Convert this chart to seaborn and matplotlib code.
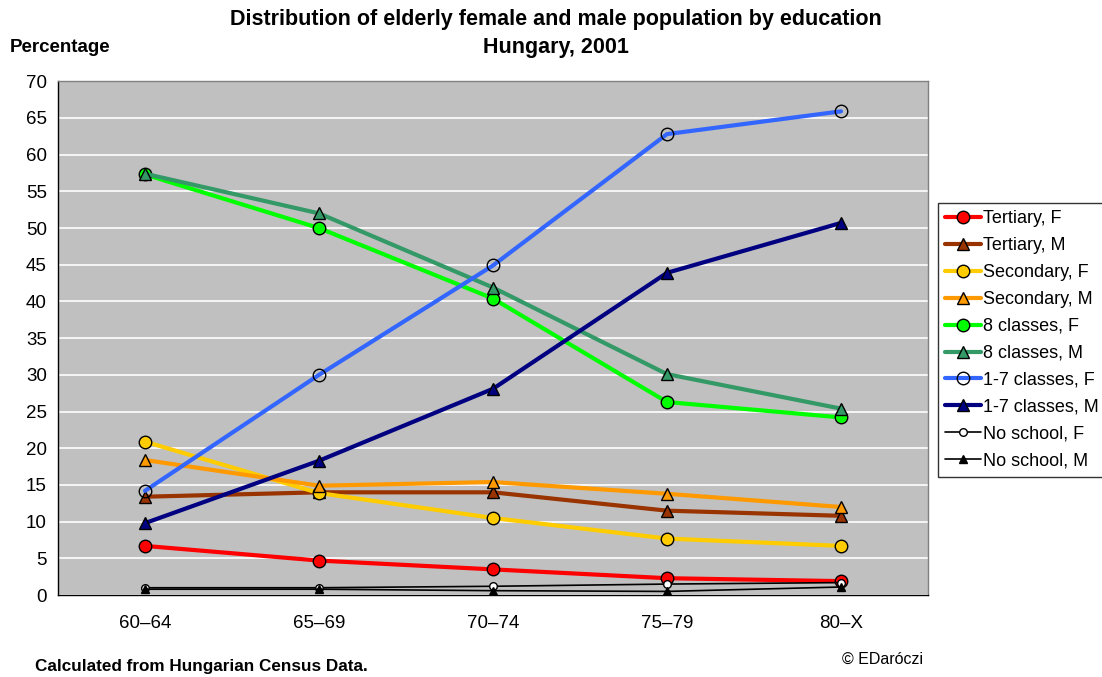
import matplotlib
matplotlib.use("Agg")
import matplotlib.pyplot as plt
import seaborn as sns
import pandas as pd

age_groups = ["60\u201364", "65\u201369", "70\u201374", "75\u201379", "80\u2013X"]

tertiary_f = [6.7, 4.7, 3.5, 2.3, 1.9]
tertiary_m = [13.4, 14.0, 14.0, 11.5, 10.8]
secondary_f = [20.9, 13.9, 10.5, 7.7, 6.7]
secondary_m = [18.4, 14.9, 15.4, 13.8, 12.0]
classes8_f = [57.3, 50.0, 40.4, 26.3, 24.2]
classes8_m = [57.4, 52.0, 41.9, 30.1, 25.4]
classes17_f = [14.2, 30.0, 44.9, 62.8, 65.9]
classes17_m = [9.8, 18.3, 28.1, 43.9, 50.7]
noschool_f = [1.0, 1.0, 1.2, 1.5, 1.7]
noschool_m = [0.8, 0.8, 0.6, 0.5, 1.1]

series = [
    ("Tertiary, F", tertiary_f, "#FF0000", "o", "#FF0000", 3.0, 9),
    ("Tertiary, M", tertiary_m, "#993300", "^", "#993300", 3.0, 9),
    ("Secondary, F", secondary_f, "#FFCC00", "o", "#FFCC00", 3.0, 9),
    ("Secondary, M", secondary_m, "#FF9900", "^", "#FF9900", 3.0, 9),
    ("8 classes, F", classes8_f, "#00FF00", "o", "#00FF00", 3.0, 9),
    ("8 classes, M", classes8_m, "#339966", "^", "#339966", 3.0, 9),
    ("1-7 classes, F", classes17_f, "#3366FF", "o", "none", 3.0, 9),
    ("1-7 classes, M", classes17_m, "#000080", "^", "#000080", 3.0, 9),
    ("No school, F", noschool_f, "#000000", "o", "#FFFFFF", 1.2, 5.5),
    ("No school, M", noschool_m, "#000000", "^", "#000000", 1.2, 5.5),
]

sns.set_style("white")
plt.rcParams["font.family"] = ["Liberation Sans", "DejaVu Sans"]
plt.rcParams["text.color"] = "black"
plt.rcParams["xtick.color"] = "black"
plt.rcParams["ytick.color"] = "black"

fig = plt.figure(figsize=(11.02, 6.77), dpi=100)
ax = fig.add_axes([0.0526, 0.121, 0.7895, 0.759])
ax.set_facecolor("#C0C0C0")

positions = list(range(len(age_groups)))
for name, values, color, marker, face, lw, ms in series:
    df = pd.DataFrame({"pos": positions, "value": values})
    sns.lineplot(data=df, x="pos", y="value", ax=ax, color=color, lw=lw,
                 marker=marker, markersize=ms, markerfacecolor=face,
                 markeredgecolor="black", markeredgewidth=1.0, label=name)

ax.set_xlim(-0.5, len(age_groups) - 0.5)
ax.set_ylim(0, 70)
ax.set_yticks(range(0, 71, 5))
ax.set_xticks(positions)
ax.set_xticklabels(age_groups)
ax.set_xticks([p + 0.5 for p in [-1] + positions], minor=True)
ax.tick_params(axis="x", which="major", length=0, pad=14, labelsize=13.5, labelcolor="black")
ax.tick_params(axis="x", which="minor", length=6, width=1, color="black", direction="out")
ax.tick_params(axis="y", length=5, width=1, color="black", direction="out",
               labelsize=13.5, pad=3, labelcolor="black")
ax.grid(axis="y", color="white", lw=1.2)
ax.set_axisbelow(True)
ax.set_xlabel("")
ax.set_ylabel("")
for side in ["left", "bottom"]:
    ax.spines[side].set_color("black")
    ax.spines[side].set_linewidth(1.0)
for side in ["top", "right"]:
    ax.spines[side].set_color("#808080")
    ax.spines[side].set_linewidth(1.0)

leg = ax.legend(loc="upper left", bbox_to_anchor=(938 / 1102, 1 - 203 / 677),
                bbox_transform=fig.transFigure, frameon=True, fancybox=False,
                fontsize=13, handlelength=2.0, handletextpad=0.1,
                labelspacing=0.55, borderpad=0.4, borderaxespad=0)
leg.get_frame().set_edgecolor("black")
leg.get_frame().set_linewidth(1.0)
for t in leg.get_texts():
    t.set_color("black")

fig.text(556 / 1102, 1 - 20 / 677, "Distribution of elderly female and male population by education",
         ha="center", va="center", fontsize=15.5, fontweight="bold")
fig.text(556 / 1102, 1 - 48 / 677, "Hungary, 2001",
         ha="center", va="center", fontsize=15.5, fontweight="bold")
fig.text(10 / 1102, 1 - 47 / 677, "Percentage", ha="left", va="center",
         fontsize=13.5, fontweight="bold")
fig.text(35 / 1102, 1 - 666 / 677, "Calculated from Hungarian Census Data.",
         ha="left", va="center", fontsize=12.3, fontweight="bold")
fig.text(842 / 1102, 1 - 659 / 677, "\u00a9 EDar\u00f3czi", ha="left", va="center",
         fontsize=11.5)

fig.savefig("out.png", dpi=100)
